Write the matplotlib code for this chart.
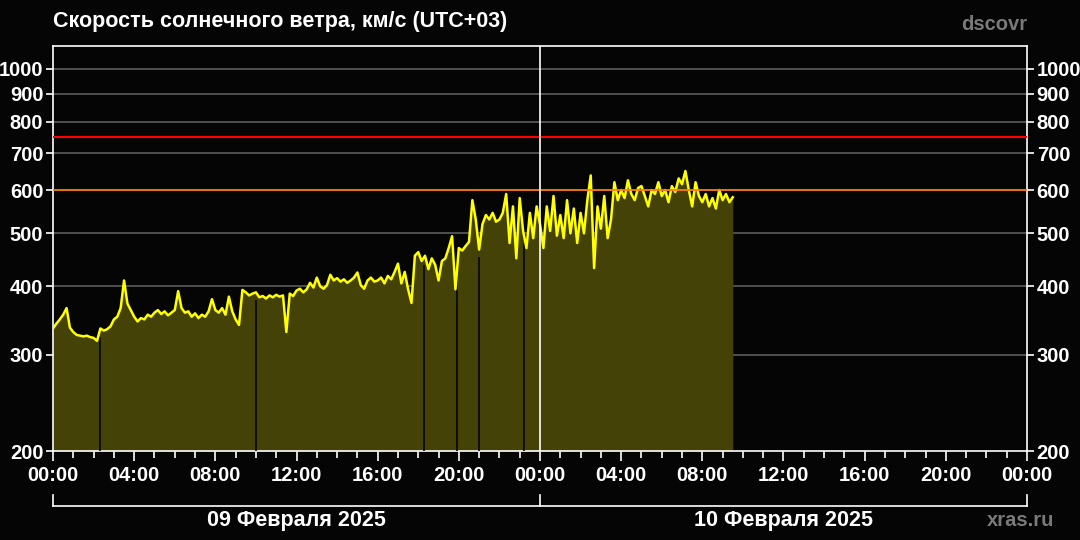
import matplotlib
matplotlib.use("Agg")
import matplotlib.pyplot as plt
import numpy as np
from matplotlib.ticker import FixedLocator, NullLocator

# Solar wind speed, km/s, every 10 minutes from 09 Feb 00:00 (UTC+03)
speed = [
    335, 342, 348, 355, 365, 336,
    330, 326, 325, 324, 325, 323,
    322, 318, 335, 332, 334, 338,
    348, 352, 365, 410, 372, 362,
    352, 345, 350, 348, 355, 352,
    358, 362, 356, 360, 354, 358,
    362, 392, 365, 358, 360, 352,
    357, 350, 355, 352, 360, 379,
    362, 358, 365, 355, 383, 360,
    348, 340, 394, 390, 385, 388,
    390, 382, 384, 380, 385, 382,
    386, 383, 385, 330, 388, 384,
    393, 396, 390, 395, 406, 398,
    415, 400, 396, 402, 420, 410,
    414, 408, 412, 406, 410, 415,
    424, 402, 396, 410, 415, 408,
    410, 415, 405, 418, 412, 425,
    440, 405, 425, 395, 373, 455,
    462, 445, 455, 430, 450, 438,
    410, 445, 450, 470, 494, 395,
    470, 465, 474, 482, 575, 530,
    467, 520, 540, 530, 545, 525,
    530, 545, 590, 480, 560, 450,
    580, 505, 470, 545, 490, 560,
    520, 470, 560, 505, 585, 495,
    540, 490, 575, 500, 555, 480,
    545, 500, 575, 638, 432, 560,
    510, 585, 490, 530, 620, 575,
    600, 580, 625, 590, 575, 605,
    610, 585, 560, 600, 590, 620,
    585, 600, 570, 610, 595, 630,
    615, 650, 600, 560, 620, 585,
    570, 590, 560, 580, 555, 600,
    575, 590, 570, 582,
]
hours = np.arange(len(speed)) / 6.0

# data gaps (hours since 09 Feb 00:00)
gap_hours = [2.32, 10.0, 18.28, 19.91, 21.0, 23.21]

y_ticks = [200, 300, 400, 500, 600, 700, 800, 900, 1000]
grid_levels = [300, 400, 500, 700, 800, 900, 1000]
x_major = list(range(0, 49, 4))
x_labels = ["00:00", "04:00", "08:00", "12:00", "16:00", "20:00",
            "00:00", "04:00", "08:00", "12:00", "16:00", "20:00", "00:00"]
day_labels = ["09 Февраля 2025", "10 Февраля 2025"]
day_centers = [12, 36]
warn_level = 600
alert_level = 750

plt.rcParams['font.family'] = ['Liberation Sans', 'DejaVu Sans']
plt.rcParams['font.weight'] = 'bold'

bg = '#050505'
fig = plt.figure(figsize=(10.8, 5.4), dpi=100, facecolor=bg)
ax = fig.add_axes([0.0491, 0.1648, 0.9018, 0.75])
ax.set_facecolor(bg)

ax.set_yscale('log')
ax.set_ylim(200, 1100)
ax.set_xlim(0, 48)

for lv in grid_levels:
    ax.axhline(lv, color='#5c5c5c', lw=1.2, zorder=1)

ax.fill_between(hours, speed, 200, color='#454208', lw=0, zorder=2)
gap_tops = np.interp(gap_hours, hours, speed) * 0.97
ax.vlines(gap_hours, 200, gap_tops, color=bg, lw=1.2, zorder=3)
ax.plot(hours, speed, color='#ffff00', lw=1.8, zorder=4)

ax.axhline(warn_level, color='#ff8000', lw=1.3, zorder=5)
ax.axhline(alert_level, color='#ff0000', lw=1.5, zorder=5)
ax.axvline(24, color='white', lw=1.2, zorder=6)

for s in ax.spines.values():
    s.set_color('white')
    s.set_linewidth(1.2)

ax.yaxis.set_major_locator(FixedLocator(y_ticks))
ax.yaxis.set_minor_locator(NullLocator())
ax.set_yticklabels([str(v) for v in y_ticks])
ax.set_xticks(x_major)
ax.set_xticklabels(x_labels)
ax.set_xticks(range(0, 49), minor=True)
ax.tick_params(axis='both', colors='white', labelsize=14.5, direction='out')
ax.tick_params(axis='y', left=True, right=True, labelleft=True, labelright=True,
               length=5, width=1.2, pad=2)
ax.tick_params(axis='x', which='major', length=7, width=1.2, pad=4)
ax.tick_params(axis='x', which='minor', length=5, width=1.2, colors='white')

# day brackets under the time axis
tr = ax.get_xaxis_transform()
ax.plot([0, 48], [-0.136, -0.136], color='white', lw=1.2, transform=tr, clip_on=False)
for xb in [0, 24, 48]:
    ax.plot([xb, xb], [-0.136, -0.109], color='white', lw=1.2, transform=tr, clip_on=False)
for xc, lab in zip(day_centers, day_labels):
    ax.text(xc, -0.172, lab, color='white', fontsize=15.5, fontweight='bold',
            ha='center', va='center', transform=tr)

fig.text(53 / 1080, 1 - 21 / 540, 'Скорость солнечного ветра, км/с (UTC+03)',
         color='white', fontsize=15.5, fontweight='bold', ha='left', va='center')
fig.text(1027 / 1080, 1 - 24 / 540, 'dscovr', color='#7a7a7a', fontsize=14.5,
         fontweight='bold', ha='right', va='center')
fig.text(1054 / 1080, 1 - 521 / 540, 'xras.ru', color='#7a7a7a', fontsize=14.5,
         fontweight='bold', ha='right', va='center')

plt.savefig('out.png', dpi=100, facecolor=bg)
